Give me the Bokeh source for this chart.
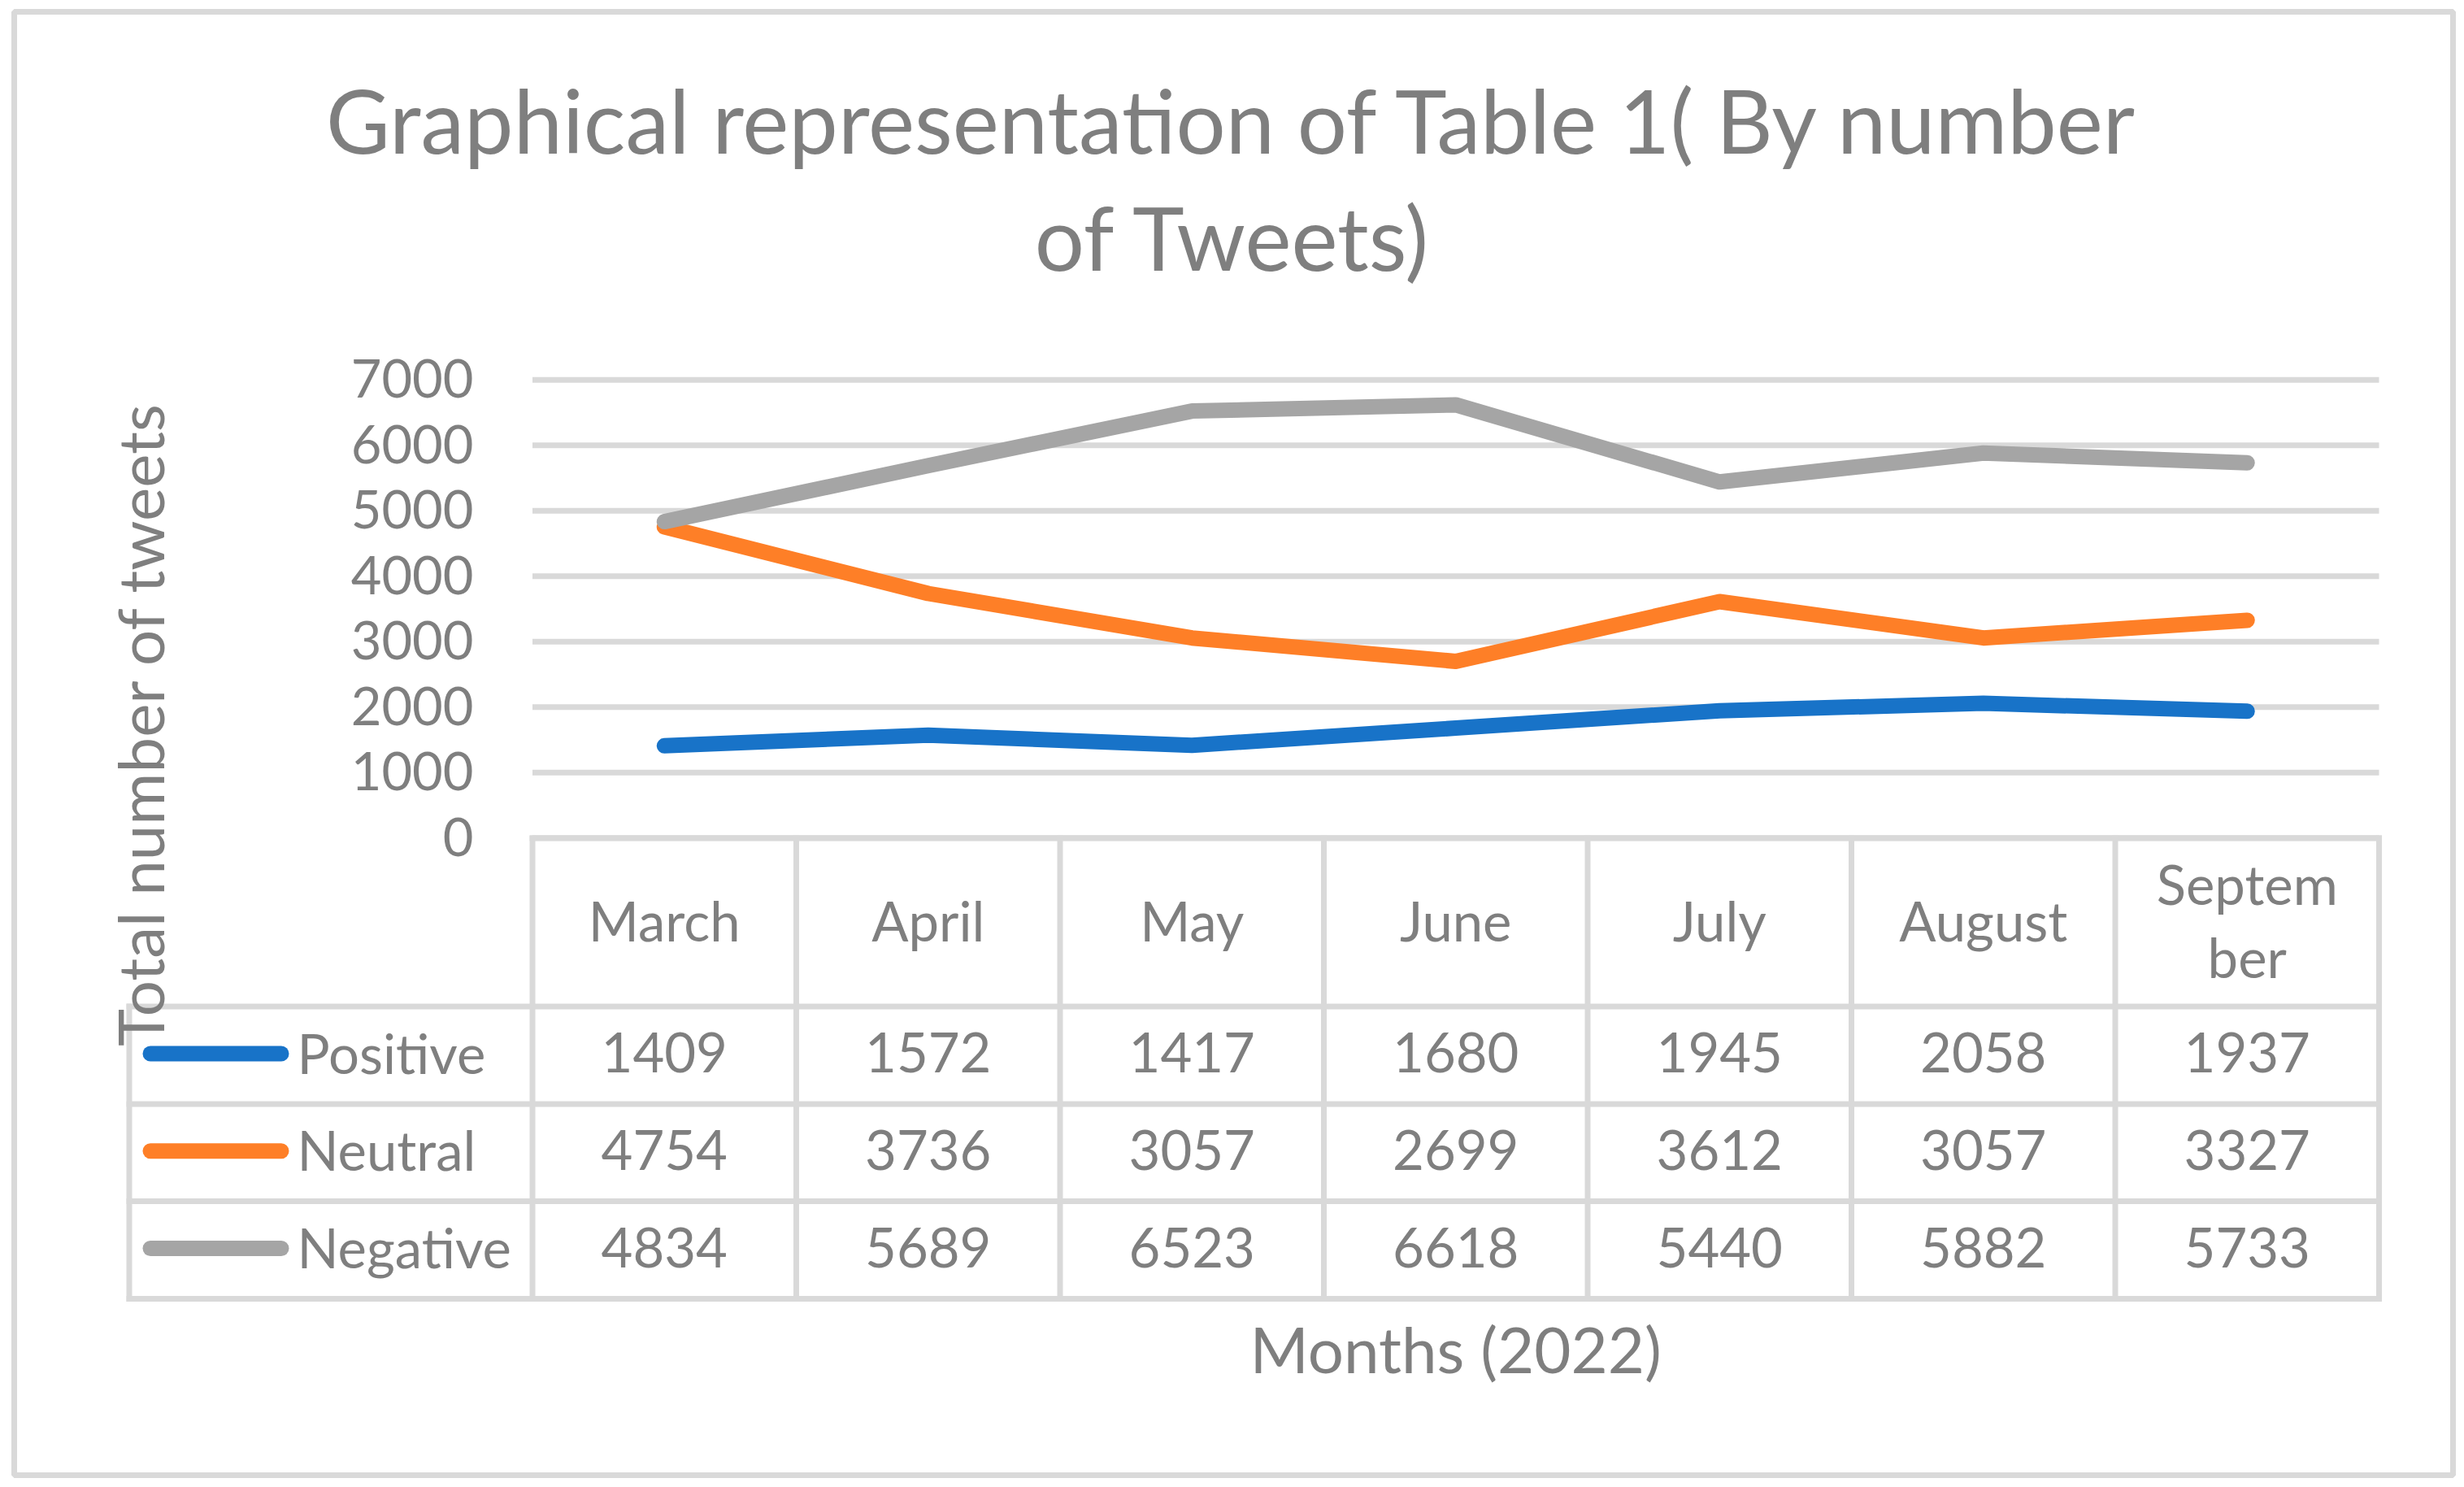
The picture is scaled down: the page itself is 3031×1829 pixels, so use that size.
import math
from bokeh.plotting import figure
from bokeh.models import Range1d
from bokeh.core.properties import value
from bokeh.embed import file_html
from bokeh.resources import INLINE

# ---------------- data ----------------
months = ["March", "April", "May", "June", "July", "August", "September"]
month_header = ["March", "April", "May", "June", "July", "August", "Septem\nber"]
positive = [1409, 1572, 1417, 1680, 1945, 2058, 1937]
neutral = [4754, 3736, 3057, 2699, 3612, 3057, 3327]
negative = [4834, 5689, 6523, 6618, 5440, 5882, 5733]
series_names = ["Positive", "Neutral", "Negative"]
series_values = [positive, neutral, negative]
series_colors = ["#1873C8", "#FE7F27", "#A5A5A5"]
y_ticks = [0, 1000, 2000, 3000, 4000, 5000, 6000, 7000]
title_lines = ["Graphical representation of Table 1( By number", "of Tweets)"]
y_title = "Total number of tweets"
x_title = "Months (2022)"

# ---------------- layout (page pixels) ----------------
W, H = 3025, 1823
PX0, PY0 = 0, 0
PLOT_L, PLOT_R = 654.5, 2926.0    # plot area / table data columns
Y0_PX, Y7000_PX = 1030.3, 466.7   # pixel of value 0 and 7000
CW = (PLOT_R - PLOT_L) / len(months)
K = (Y0_PX - Y7000_PX) / 7000.0

TABLE_TOP = 1030.5
ROW_LINES = [1237.5, 1357.5, 1477.0, 1597.0]
LEG_LEFT = 158.5
GRID_C = "#D9D9D9"
TXT_C = "#7F7F7F"
FONT = value("Lato")
SHIFT = 0.38  # baseline correction (fraction of font size)

FS_TITLE, FS_TICK, FS_TAB, FS_AX = 108, 65, 67, 78


def fix(fs):
    return -SHIFT * fs


p = figure(width=W, height=H,
           x_range=Range1d(PX0, PX0 + W), y_range=Range1d(PY0 + H, PY0),
           x_axis_type=None, y_axis_type=None,
           output_backend="svg", toolbar_location=None, min_border=0,
           outline_line_color=None, background_fill_color="white",
           border_fill_color="white")

p.extra_x_ranges = {"m": Range1d((PX0 - PLOT_L) / CW - 0.5, (PX0 + W - PLOT_L) / CW - 0.5)}
p.extra_y_ranges = {"v": Range1d(-(PY0 + H - Y0_PX) / K, (Y0_PX - PY0) / K)}

# outer chart border
p.quad(left=[17], right=[3017], top=[14], bottom=[1814], fill_color=None,
       line_color=GRID_C, line_width=7)

# horizontal gridlines
n = len(months)
p.segment(x0=[-0.5] * len(y_ticks), x1=[n - 0.5] * len(y_ticks), y0=y_ticks, y1=y_ticks,
          x_range_name="m", y_range_name="v", line_color=GRID_C, line_width=7)

# y tick labels
p.text(x=[582] * len(y_ticks), y=y_ticks, text=[str(t) for t in y_ticks],
       y_range_name="v", text_align="right", text_baseline="alphabetic",
       y_offset=23 + fix(FS_TICK), text_font=FONT, text_font_size=f"{FS_TICK}px",
       text_color=TXT_C)

# table lines
col_edges = [i - 0.5 for i in range(n + 1)]
p.segment(x0=col_edges, x1=col_edges, y0=[TABLE_TOP] * len(col_edges),
          y1=[ROW_LINES[-1]] * len(col_edges), x_range_name="m",
          line_color=GRID_C, line_width=7, line_cap="square")
p.segment(x0=[LEG_LEFT], x1=[LEG_LEFT], y0=[ROW_LINES[0]], y1=[ROW_LINES[-1]],
          line_color=GRID_C, line_width=7, line_cap="square")
p.segment(x0=[LEG_LEFT] * len(ROW_LINES), x1=[PLOT_R] * len(ROW_LINES),
          y0=ROW_LINES, y1=ROW_LINES, line_color=GRID_C, line_width=7, line_cap="square")
p.segment(x0=[PLOT_L], x1=[PLOT_R], y0=[TABLE_TOP], y1=[TABLE_TOP],
          line_color=GRID_C, line_width=7, line_cap="square")

# header texts (months)
hdr_center = (TABLE_TOP + ROW_LINES[0]) / 2
hx, hy, ht = [], [], []
for i, lab in enumerate(month_header):
    parts = lab.split("\n")
    m = len(parts)
    for j, part in enumerate(parts):
        hx.append(i)
        hy.append(hdr_center + 23 + (j - (m - 1) / 2) * 90 + fix(FS_TAB))
        ht.append(part)
p.text(x=hx, y=hy, text=ht, x_range_name="m", text_align="center",
       text_baseline="alphabetic", text_font=FONT, text_font_size=f"{FS_TAB}px",
       text_color=TXT_C)

# data lines
for vals, col in zip(series_values, series_colors):
    p.line(x=list(range(n)), y=vals, x_range_name="m", y_range_name="v",
           line_color=col, line_width=19, line_cap="round", line_join="round")

# table rows: legend keys, names, values
for r, (name, vals, col) in enumerate(zip(series_names, series_values, series_colors)):
    rc = (ROW_LINES[r] + ROW_LINES[r + 1]) / 2
    p.segment(x0=[184.5], x1=[345.5], y0=[rc - 2], y1=[rc - 2], line_color=col,
              line_width=19, line_cap="round")
    p.text(x=[365], y=[rc + 22 + fix(FS_TAB)], text=[name], text_align="left",
           text_baseline="alphabetic", text_font=FONT, text_font_size=f"{FS_TAB}px",
           text_color=TXT_C)
    p.text(x=list(range(n)), y=[rc + 22 + fix(FS_TAB)] * n, text=[str(v) for v in vals],
           x_range_name="m", text_align="center", text_baseline="alphabetic",
           text_font=FONT, text_font_size=f"{FS_TAB}px", text_color=TXT_C)

# titles
p.text(x=[1517] * len(title_lines),
       y=[188 + 144 * i + fix(FS_TITLE) for i in range(len(title_lines))],
       text=title_lines, text_align="center", text_baseline="alphabetic",
       text_font=FONT, text_font_size=f"{FS_TITLE}px", text_color=TXT_C)
p.text(x=[201 + fix(FS_AX)], y=[890], text=[y_title], angle=math.pi / 2,
       text_align="center", text_baseline="alphabetic", text_font=FONT,
       text_font_size=f"{FS_AX}px", text_color=TXT_C)
p.text(x=[(PLOT_L + PLOT_R) / 2], y=[1688 + fix(FS_AX)], text=[x_title],
       text_align="center", text_baseline="alphabetic", text_font=FONT,
       text_font_size=f"{FS_AX}px", text_color=TXT_C)

open("out.html", "w").write(file_html(p, INLINE))
